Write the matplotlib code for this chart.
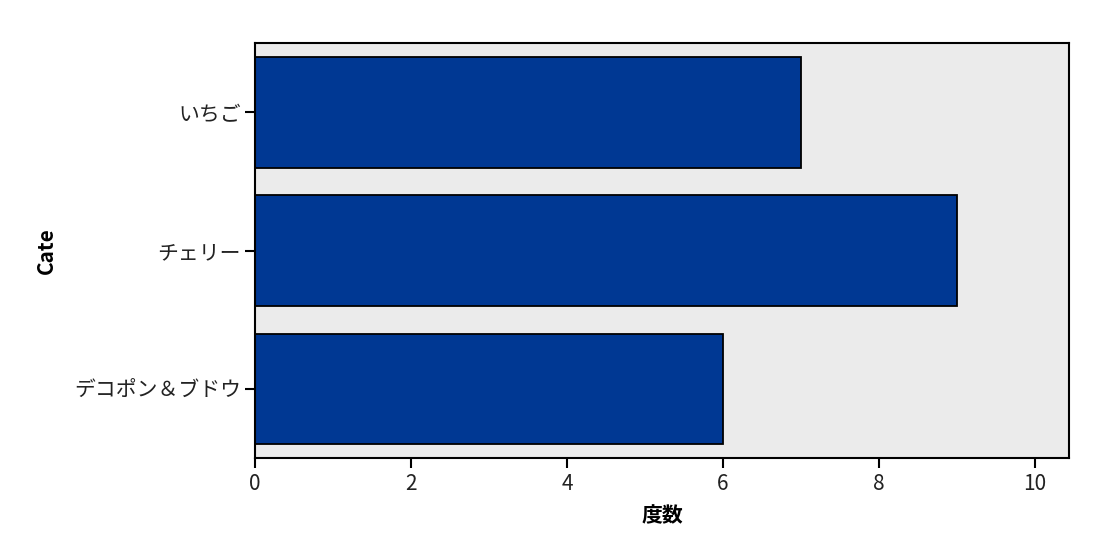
import matplotlib
matplotlib.use("Agg")
import matplotlib.pyplot as plt

categories = ["いちご", "チェリー", "デコポン＆ブドウ"]
counts = [7, 9, 6]
xticks = [0, 2, 4, 6, 8, 10]

plt.rcParams['font.family'] = ['Noto Sans CJK JP', 'DejaVu Sans']

fig = plt.figure(figsize=(11.14, 5.58), dpi=100)
ax = fig.add_axes([255/1114, 100/558, 814/1114, 415/558])
ax.set_facecolor("#EBEBEB")
pos = list(range(len(categories)))
ax.barh(pos, counts, height=0.8, color="#003893", edgecolor="black", linewidth=1.3)
ax.set_ylim(2.5, -0.5)
ax.set_xlim(0, 10.44)
ax.set_yticks(pos)
ax.set_yticklabels(categories, fontsize=15, color="#222222")
ax.set_xticks(xticks)
ax.set_xticklabels([str(t) for t in xticks], fontsize=15, color="#222222")
ax.tick_params(axis="y", direction="out", length=7, width=1.5, color="black", pad=3)
ax.tick_params(axis="x", direction="out", length=7, width=1.5, color="black", pad=4)
for s in ax.spines.values():
    s.set_linewidth(1.5)
    s.set_color("black")
ax.set_xlabel("度数", fontsize=15, fontweight="bold")
ax.xaxis.set_label_coords(0.5, -0.113)
ax.set_ylabel("Cate", fontsize=15, fontweight="bold")
ax.yaxis.set_label_coords(-0.243, 0.5)
fig.savefig("out.png", dpi=100)
